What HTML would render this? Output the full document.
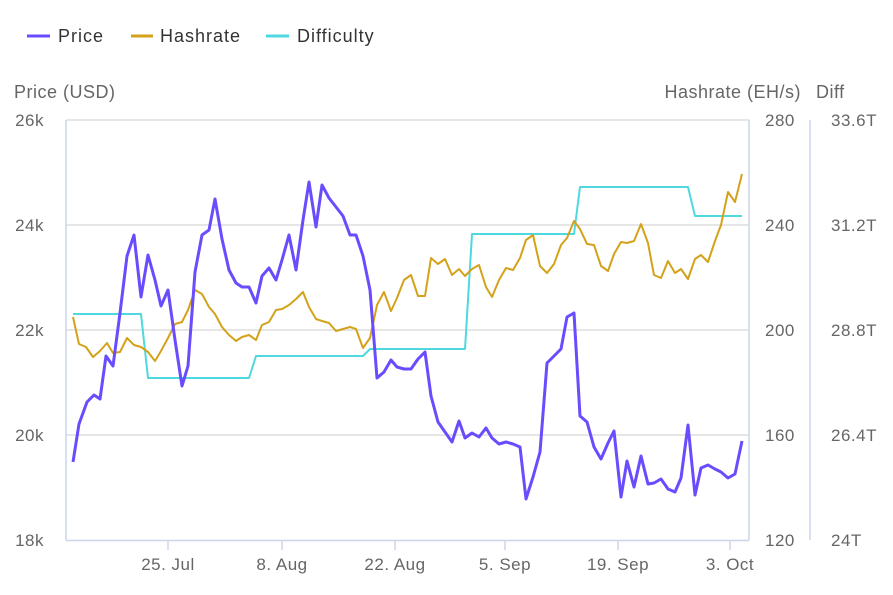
<!DOCTYPE html>
<html><head><style>body{margin:0;background:#fff}svg{display:block;font-family:"Liberation Sans",sans-serif}</style></head><body>
<svg width="893" height="595" viewBox="0 0 893 595">
<g stroke="#e6e6e6" stroke-width="2">
<line x1="66" x2="749" y1="120" y2="120"/><line x1="66" x2="749" y1="225" y2="225"/><line x1="66" x2="749" y1="330" y2="330"/><line x1="66" x2="749" y1="435" y2="435"/>
</g>
<g stroke="#ccd6eb" stroke-width="1.5">
<line x1="66" x2="66" y1="120" y2="540"/><line x1="749" x2="749" y1="120" y2="540"/><line x1="810" x2="810" y1="120" y2="540"/>
<line x1="66" x2="749" y1="540.5" y2="540.5"/>
<line x1="168" x2="168" y1="540" y2="550"/><line x1="282" x2="282" y1="540" y2="550"/><line x1="395" x2="395" y1="540" y2="550"/><line x1="505" x2="505" y1="540" y2="550"/><line x1="618" x2="618" y1="540" y2="550"/><line x1="730" x2="730" y1="540" y2="550"/>
</g>
<g fill="#666" font-size="17" letter-spacing="0.5">
<text x="14" y="98" font-size="18">Price (USD)</text>
<text x="801" y="98" font-size="18" text-anchor="end">Hashrate (EH/s)</text>
<text x="816" y="98" font-size="18">Diff</text>
<g text-anchor="end"><text x="44" y="126">26k</text><text x="44" y="231">24k</text><text x="44" y="336">22k</text><text x="44" y="441">20k</text><text x="44" y="546">18k</text></g>
<text x="765" y="126">280</text><text x="765" y="231">240</text><text x="765" y="336">200</text><text x="765" y="441">160</text><text x="765" y="546">120</text>
<text x="831" y="126">33.6T</text><text x="831" y="231">31.2T</text><text x="831" y="336">28.8T</text><text x="831" y="441">26.4T</text><text x="831" y="546">24T</text>
<g text-anchor="middle"><text x="168" y="570">25. Jul</text><text x="282" y="570">8. Aug</text><text x="395" y="570">22. Aug</text><text x="505" y="570">5. Sep</text><text x="618" y="570">19. Sep</text><text x="730" y="570">3. Oct</text></g>
</g>
<g fill="none" stroke-width="2" stroke-linejoin="round">
<polyline stroke="#4fd8e0" points="73,314 141,314 148,378 249,378 256,356 363,356 370,349 465,349 472,234 574,234 580,187 688,187 695,216 742,216"/>
<polyline stroke="#d4a21a" points="73,317 79,344 86,347 93,357 100,351 107,343 113,353 120,352 127,338 134,345 141,347 148,352 155,361 161,351 168,338 175,324 182,322 188,310 195,290 202,294 209,307 215,314 222,327 229,335 236,341 242,337 249,335 256,340 262,325 269,322 276,310 282,309 289,305 296,299 303,292 309,307 316,319 322,321 329,323 336,331 343,329 350,327 356,329 363,348 370,338 377,305 384,292 391,311 397,298 404,280 411,275 418,296 425,296 431,258 438,264 445,259 452,275 459,269 465,276 472,269 479,265 486,287 492,297 499,280 506,268 513,270 520,258 526,240 533,235 540,266 547,273 554,264 561,245 567,238 574,221 580,229 587,244 594,245 601,266 608,271 614,254 621,242 627,243 634,241 641,224 648,243 654,275 661,278 668,261 675,273 681,269 688,279 695,259 701,255 708,262 715,241 721,225 728,192 735,202 742,174"/>
<polyline stroke="#6a4cff" stroke-width="3" points="73,462 79,424 87,402 94,395 100,399 106,356 113,366 120,313 127,256 134,235 141,297 148,255 155,280 161,306 168,290 175,340 182,386 188,366 195,272 202,235 209,230 215,199 222,239 229,270 236,283 242,287 249,287 256,303 262,276 269,268 276,280 282,260 289,235 296,270 303,220 309,182 316,227 322,185 329,198 336,207 343,216 350,235 356,235 363,256 370,290 377,378 384,372 391,360 397,367 404,369 411,369 418,359 425,352 431,396 438,422 445,432 452,442 459,421 465,438 472,433 479,437 486,428 492,438 499,444 506,442 513,444 520,447 526,499 533,477 540,452 547,363 554,356 561,349 567,317 574,313 580,416 587,422 594,447 601,459 608,443 614,431 621,497 627,461 634,487 641,456 648,484 654,483 661,479 668,489 675,492 681,478 688,425 695,495 701,468 708,465 715,469 721,472 728,478 735,474 742,441"/>
</g>
<g stroke-width="3"><line x1="27" x2="50" y1="36" y2="36" stroke="#6a4cff"/><line x1="131" x2="153" y1="36" y2="36" stroke="#d4a21a"/><line x1="266" x2="289" y1="36" y2="36" stroke="#4fd8e0"/></g>
<g fill="#333" font-size="18" letter-spacing="1"><text x="58" y="42">Price</text><text x="160" y="42">Hashrate</text><text x="297" y="42">Difficulty</text></g>
</svg>
</body></html>
